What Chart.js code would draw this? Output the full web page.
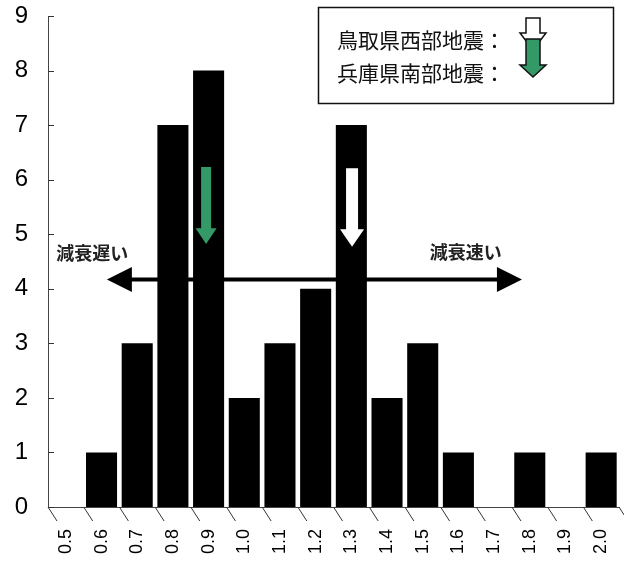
<!DOCTYPE html>
<html>
<head>
<meta charset="utf-8">
<script src="https://cdn.jsdelivr.net/npm/chart.js@4/dist/chart.umd.min.js"></script>
<style>
  html, body { margin: 0; padding: 0; background: #fff; }
  #wrap { width: 624px; height: 563px; }
</style>
</head>
<body>
<div id="wrap"><canvas id="histChart" width="624" height="563"></canvas></div>
<script>
// histogram data
const categories = ['0.5','0.6','0.7','0.8','0.9','1.0','1.1','1.2','1.3','1.4','1.5','1.6','1.7','1.8','1.9','2.0'];
const counts = [0, 1, 3, 7, 8, 2, 3, 4, 7, 2, 3, 1, 0, 1, 0, 1];
const yTicks = [0, 1, 2, 3, 4, 5, 6, 7, 8, 9];

const legendLabels = ['鳥取県西部地震：', '兵庫県南部地震：'];
const slowText = '減衰遅い';
const fastText = '減衰速い';

const JP = '"Noto Sans CJK JP", "Noto Sans", sans-serif';

function drawDownArrow(ctx, cx, top, headStart, tip, shaftW, headW, fill, stroke) {
  ctx.beginPath();
  ctx.moveTo(cx - shaftW / 2, top);
  ctx.lineTo(cx + shaftW / 2, top);
  ctx.lineTo(cx + shaftW / 2, headStart);
  ctx.lineTo(cx + headW / 2, headStart);
  ctx.lineTo(cx, tip);
  ctx.lineTo(cx - headW / 2, headStart);
  ctx.lineTo(cx - shaftW / 2, headStart);
  ctx.closePath();
  ctx.fillStyle = fill;
  ctx.fill();
  if (stroke) {
    ctx.strokeStyle = stroke;
    ctx.lineWidth = 1.5;
    ctx.stroke();
  }
}

const extras = {
  id: 'extras',
  afterDatasetsDraw(chart) {
    const ctx = chart.ctx;
    const x = chart.scales.x, y = chart.scales.y;
    const area = chart.chartArea;
    const step = (area.right - area.left) / categories.length;
    ctx.save();

    // inward y ticks
    ctx.strokeStyle = '#333';
    ctx.lineWidth = 1;
    yTicks.forEach(v => {
      const py = Math.round(y.getPixelForValue(v)) + 0.5;
      ctx.beginPath();
      ctx.moveTo(area.left, py);
      ctx.lineTo(area.left + 6, py);
      ctx.stroke();
    });

    // slanted x ticks on category boundaries
    for (let i = 0; i <= categories.length; i++) {
      const bx = area.left + i * step;
      ctx.beginPath();
      ctx.moveTo(bx, area.bottom);
      ctx.lineTo(bx + 9, area.bottom + 14);
      ctx.stroke();
    }

    // double-headed arrow
    const ay = y.getPixelForValue(4.17);
    const lx = x.getPixelForValue(1.15);
    const rx = x.getPixelForValue(12.78);
    ctx.fillStyle = '#000';
    ctx.strokeStyle = '#000';
    ctx.lineWidth = 4;
    ctx.beginPath();
    ctx.moveTo(lx + 20, ay);
    ctx.lineTo(rx - 20, ay);
    ctx.stroke();
    ctx.beginPath();
    ctx.moveTo(lx, ay);
    ctx.lineTo(lx + 25, ay - 12.5);
    ctx.lineTo(lx + 25, ay + 12.5);
    ctx.closePath();
    ctx.fill();
    ctx.beginPath();
    ctx.moveTo(rx, ay);
    ctx.lineTo(rx - 25, ay - 12.5);
    ctx.lineTo(rx - 25, ay + 12.5);
    ctx.closePath();
    ctx.fill();

    ctx.font = 'bold 18px ' + JP;
    ctx.textBaseline = 'middle';
    ctx.textAlign = 'left';
    ctx.fillStyle = '#222';
    ctx.fillText(slowText, x.getPixelForValue(-0.27), y.getPixelForValue(4.65));
    ctx.fillText(fastText, x.getPixelForValue(10.2), y.getPixelForValue(4.67));

    // arrows over the bars
    drawDownArrow(ctx, x.getPixelForValue(3.93), y.getPixelForValue(6.23), y.getPixelForValue(5.11),
      y.getPixelForValue(4.82), 10, 21, '#339966', null);
    drawDownArrow(ctx, x.getPixelForValue(8.02), y.getPixelForValue(6.21), y.getPixelForValue(5.09),
      y.getPixelForValue(4.77), 12, 24, '#fff', null);

    // legend box
    ctx.lineWidth = 1.5;
    ctx.strokeStyle = '#111';
    ctx.strokeRect(318.5, 7.5, 295, 96);
    ctx.font = '21px ' + JP;
    ctx.fillStyle = '#111';
    ctx.textBaseline = 'middle';
    ctx.fillText(legendLabels[0], 337, 40);
    ctx.fillText(legendLabels[1], 337, 73);
    drawDownArrow(ctx, 533, 18, 33, 50, 14, 26, '#fff', '#111');
    drawDownArrow(ctx, 533, 39, 65, 77, 14, 26, '#339966', '#111');

    ctx.restore();
  }
};

new Chart(document.getElementById('histChart'), {
  type: 'bar',
  data: {
    labels: categories,
    datasets: [{
      data: counts,
      backgroundColor: '#000',
      borderWidth: 0,
      categoryPercentage: 1,
      barPercentage: 0.87
    }]
  },
  options: {
    responsive: false,
    animation: false,
    events: [],
    layout: { padding: { top: 16, right: 5, left: 0, bottom: 0 } },
    plugins: { legend: { display: false }, tooltip: { enabled: false } },
    scales: {
      x: {
        offset: true,
        grid: { display: false, drawTicks: true, tickLength: 22 },
        border: { display: true, color: '#444', width: 1 },
        ticks: {
          autoSkip: false,
          minRotation: 90,
          maxRotation: 90,
          padding: 0,
          color: '#000',
          font: { family: '"Liberation Sans", Arial, sans-serif', size: 18 }
        },
        afterFit(scale) { scale.height = 56; }
      },
      y: {
        min: 0,
        max: 9,
        grid: { display: false, drawTicks: true, tickLength: 20 },
        border: { display: true, color: '#444', width: 1 },
        ticks: {
          stepSize: 1,
          padding: 0,
          color: '#000',
          font: { family: '"Liberation Sans", Arial, sans-serif', size: 24 }
        },
        afterFit(scale) { scale.width = 48; }
      }
    }
  },
  plugins: [extras]
});
</script>
</body>
</html>
